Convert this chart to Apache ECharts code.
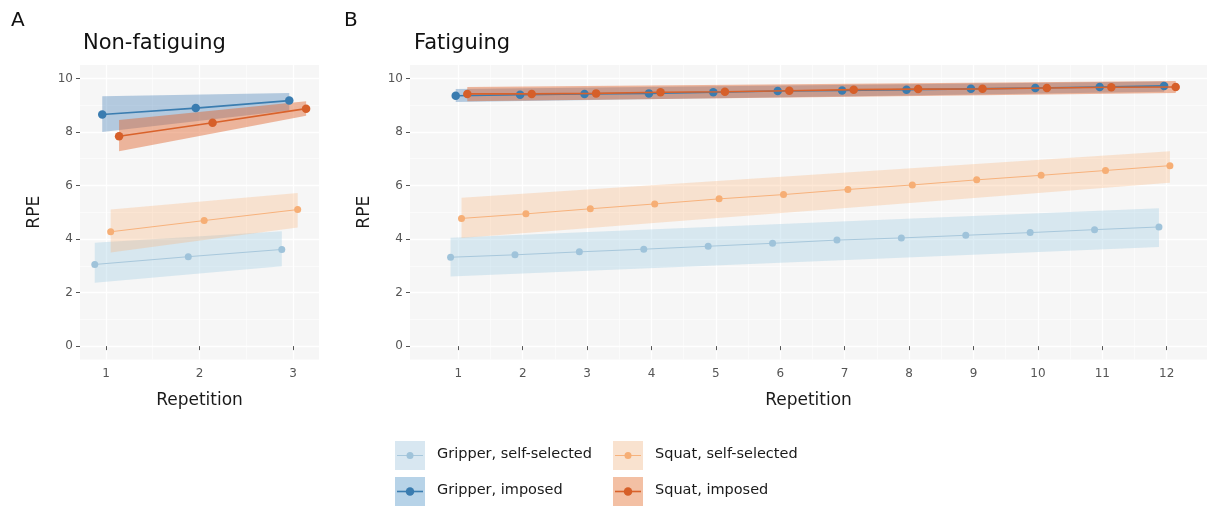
<!DOCTYPE html>
<html>
<head>
<meta charset="utf-8">
<script src="https://cdn.jsdelivr.net/npm/echarts@6/dist/echarts.min.js"></script>
<style>
html,body{margin:0;padding:0;background:#fff;}
#chart{width:1207px;height:508px;}
</style>
</head>
<body>
<div id="chart"></div>
<script>
// ---------- data ----------
const repsA = [1, 2, 3];
const repsB = [1, 2, 3, 4, 5, 6, 7, 8, 9, 10, 11, 12];
const yTicks = [0, 2, 4, 6, 8, 10];
const yMinor = [1, 3, 5, 7, 9];
const xMinorA = [1.5, 2.5];
const xMinorB = [1.5, 2.5, 3.5, 4.5, 5.5, 6.5, 7.5, 8.5, 9.5, 10.5, 11.5];

const seriesNames = ['Gripper, self-selected', 'Gripper, imposed', 'Squat, self-selected', 'Squat, imposed'];

// Panel A (Non-fatiguing)
const A_gripSelf  = [3.05, 3.34, 3.61];
const A_gripImp   = [8.65, 8.89, 9.17];
const A_squatSelf = [4.27, 4.69, 5.10];
const A_squatImp  = [7.84, 8.34, 8.87];
// ribbons: [first rep, last rep]
const A_gripSelfLo  = [2.37, 2.98], A_gripSelfHi  = [3.86, 4.29];
const A_gripImpLo   = [8.00, 8.80], A_gripImpHi   = [9.33, 9.45];
const A_squatSelfLo = [3.50, 4.43], A_squatSelfHi = [5.10, 5.72];
const A_squatImpLo  = [7.28, 8.60], A_squatImpHi  = [8.45, 9.15];

// Panel B (Fatiguing)
const B_gripSelf  = [3.32, 3.41, 3.52, 3.62, 3.73, 3.84, 3.96, 4.04, 4.14, 4.24, 4.35, 4.45];
const B_gripImp   = [9.35, 9.39, 9.42, 9.44, 9.48, 9.53, 9.55, 9.58, 9.61, 9.64, 9.68, 9.72];
const B_squatSelf = [4.77, 4.94, 5.13, 5.31, 5.50, 5.66, 5.85, 6.02, 6.21, 6.38, 6.56, 6.74];
const B_squatImp  = [9.42, 9.42, 9.44, 9.48, 9.50, 9.54, 9.58, 9.60, 9.61, 9.64, 9.67, 9.68];
const B_gripSelfLo  = [2.60, 3.70], B_gripSelfHi  = [4.05, 5.15];
const B_gripImpLo   = [9.12, 9.50], B_gripImpHi   = [9.60, 9.88];
const B_squatSelfLo = [4.04, 6.10], B_squatSelfHi = [5.54, 7.28];
const B_squatImpLo  = [9.15, 9.45], B_squatImpHi  = [9.68, 9.90];

// ---------- styling ----------
const FONT = 'DejaVu Sans';
const dodge = [-0.12, -0.04, 0.05, 0.14];
const lineCol = ['#a8c8dc', '#3b7db0', '#f7b27c', '#d9622b'];
const ptCol   = ['#9fc3da', '#3a7cb0', '#f6ae75', '#d65f29'];
const ribCol  = ['rgba(158,202,225,0.35)', 'rgba(70,130,185,0.38)', 'rgba(253,174,107,0.28)', 'rgba(225,100,45,0.45)'];
const keyCol  = ['#d8e7f1', '#b7d3e8', '#f9e2cf', '#f3c0a4'];
const ptSize  = [7, 8.5, 7, 8.5];
const lnW     = [1, 1.6, 1, 1.6];

const chart = echarts.init(document.getElementById('chart'), null, {renderer: 'canvas'});

function makeAxesForGrid(gi, xmin, xmax, xTicks, xMinor) {
  const xs = [
    {
      gridIndex: gi, type: 'value', min: xmin, max: xmax,
      axisLine: {show: false},
      axisTick: {show: true, length: 4, lineStyle: {color: '#555', width: 1}, customValues: xTicks},
      axisLabel: {show: true, customValues: xTicks, margin: 8, color: '#555', fontFamily: FONT, fontSize: 12},
      splitLine: {show: true, lineStyle: {color: '#ffffff', width: 1.3}},
      name: 'Repetition', nameLocation: 'middle', nameGap: 33,
      nameTextStyle: {color: '#1a1a1a', fontFamily: FONT, fontSize: 17}
    },
    {
      gridIndex: gi, type: 'value', min: xmin, max: xmax, position: 'bottom',
      axisLine: {show: false}, axisTick: {show: false, customValues: xMinor},
      axisLabel: {show: false, customValues: xMinor},
      splitLine: {show: true, lineStyle: {color: '#ffffff', width: 0.6}}
    }
  ];
  const ys = [
    {
      gridIndex: gi, type: 'value', min: -0.5, max: 10.5,
      axisLine: {show: false},
      axisTick: {show: true, length: 4, lineStyle: {color: '#555', width: 1}, customValues: yTicks},
      axisLabel: {show: true, customValues: yTicks, margin: 7, color: '#555', fontFamily: FONT, fontSize: 12},
      splitLine: {show: true, lineStyle: {color: '#ffffff', width: 1.3}},
      name: 'RPE', nameLocation: 'middle', nameGap: 37, nameRotate: 90,
      nameTextStyle: {color: '#1a1a1a', fontFamily: FONT, fontSize: 17}
    },
    {
      gridIndex: gi, type: 'value', min: -0.5, max: 10.5, position: 'left',
      axisLine: {show: false}, axisTick: {show: false, customValues: yMinor},
      axisLabel: {show: false, customValues: yMinor},
      splitLine: {show: true, lineStyle: {color: '#ffffff', width: 0.6}}
    }
  ];
  return {xs, ys};
}

const axA = makeAxesForGrid(0, 0.722, 3.278, repsA, xMinorA);
// panel B runs past the right edge of the picture; grid ends at the page edge
const axB = makeAxesForGrid(1, 0.25, 12.626, repsB, xMinorB);

function ribbonSeries(xi, yi, reps, k, lo, hi) {
  const x0 = reps[0] + dodge[k], x1 = reps[reps.length - 1] + dodge[k];
  return {
    type: 'custom', xAxisIndex: xi, yAxisIndex: yi, z: 1, silent: true,
    clip: true,
    encode: {x: [0, 3], y: [1, 2, 4, 5]},
    data: [[x0, lo[0], hi[0], x1, lo[1], hi[1]]],
    renderItem: function (params, api) {
      const p1 = api.coord([api.value(0), api.value(2)]);
      const p2 = api.coord([api.value(3), api.value(5)]);
      const p3 = api.coord([api.value(3), api.value(4)]);
      const p4 = api.coord([api.value(0), api.value(1)]);
      return {type: 'polygon', shape: {points: [p1, p2, p3, p4]}, style: {fill: ribCol[k], stroke: null}};
    }
  };
}

function lineSeries(xi, yi, reps, k, vals) {
  return {
    type: 'line', name: seriesNames[k], xAxisIndex: xi, yAxisIndex: yi, z: 3 + k,
    data: reps.map((r, i) => [r + dodge[k], vals[i]]),
    symbol: 'circle', symbolSize: ptSize[k], showSymbol: true,
    itemStyle: {color: ptCol[k]},
    lineStyle: {color: lineCol[k], width: lnW[k]},
    animation: false, silent: true
  };
}

const series = [
  ribbonSeries(0, 0, repsA, 0, A_gripSelfLo, A_gripSelfHi),
  ribbonSeries(0, 0, repsA, 2, A_squatSelfLo, A_squatSelfHi),
  ribbonSeries(0, 0, repsA, 1, A_gripImpLo, A_gripImpHi),
  ribbonSeries(0, 0, repsA, 3, A_squatImpLo, A_squatImpHi),
  lineSeries(0, 0, repsA, 0, A_gripSelf),
  lineSeries(0, 0, repsA, 2, A_squatSelf),
  lineSeries(0, 0, repsA, 1, A_gripImp),
  lineSeries(0, 0, repsA, 3, A_squatImp),
  ribbonSeries(2, 2, repsB, 0, B_gripSelfLo, B_gripSelfHi),
  ribbonSeries(2, 2, repsB, 2, B_squatSelfLo, B_squatSelfHi),
  ribbonSeries(2, 2, repsB, 1, B_gripImpLo, B_gripImpHi),
  ribbonSeries(2, 2, repsB, 3, B_squatImpLo, B_squatImpHi),
  lineSeries(2, 2, repsB, 0, B_gripSelf),
  lineSeries(2, 2, repsB, 2, B_squatSelf),
  lineSeries(2, 2, repsB, 1, B_gripImp),
  lineSeries(2, 2, repsB, 3, B_squatImp)
];

// legend drawn as ggplot-style keys
const legendGfx = [];
const keyPos = [[395, 441], [395, 477], [613, 441], [613, 477]];
for (let k = 0; k < 4; k++) {
  const [kx, ky] = keyPos[k];
  legendGfx.push({type: 'rect', left: kx, top: ky, shape: {width: 30, height: 29}, style: {fill: keyCol[k]}, silent: true});
  legendGfx.push({type: 'line', shape: {x1: kx + 2, y1: ky + 14.5, x2: kx + 28, y2: ky + 14.5}, style: {stroke: lineCol[k], lineWidth: lnW[k]}, silent: true});
  legendGfx.push({type: 'circle', shape: {cx: kx + 15, cy: ky + 14.5, r: ptSize[k] / 2}, style: {fill: ptCol[k]}, silent: true});
  legendGfx.push({type: 'text', left: kx + 42, top: ky + 6, style: {text: seriesNames[k], fill: '#1a1a1a', font: '14.5px "DejaVu Sans"'}, silent: true});
}

const option = {
  animation: false,
  backgroundColor: '#ffffff',
  textStyle: {fontFamily: FONT},
  title: [
    {text: 'A', left: 6, top: 6, textStyle: {fontFamily: FONT, fontSize: 20, fontWeight: 'normal', color: '#111'}},
    {text: 'Non-fatiguing', left: 78, top: 28, textStyle: {fontFamily: FONT, fontSize: 21, fontWeight: 'normal', color: '#111'}},
    {text: 'B', left: 339, top: 6, textStyle: {fontFamily: FONT, fontSize: 20, fontWeight: 'normal', color: '#111'}},
    {text: 'Fatiguing', left: 409, top: 28, textStyle: {fontFamily: FONT, fontSize: 21, fontWeight: 'normal', color: '#111'}}
  ],
  grid: [
    {left: 80, top: 65, width: 239, height: 294.5, show: true, backgroundColor: '#f6f6f6', borderWidth: 0, containLabel: false},
    {left: 410, top: 65, width: 797, height: 294.5, show: true, backgroundColor: '#f6f6f6', borderWidth: 0, containLabel: false}
  ],
  xAxis: [...axA.xs, ...axB.xs],
  yAxis: [...axA.ys, ...axB.ys],
  series: series,
  graphic: legendGfx
};

chart.setOption(option);
</script>
</body>
</html>
